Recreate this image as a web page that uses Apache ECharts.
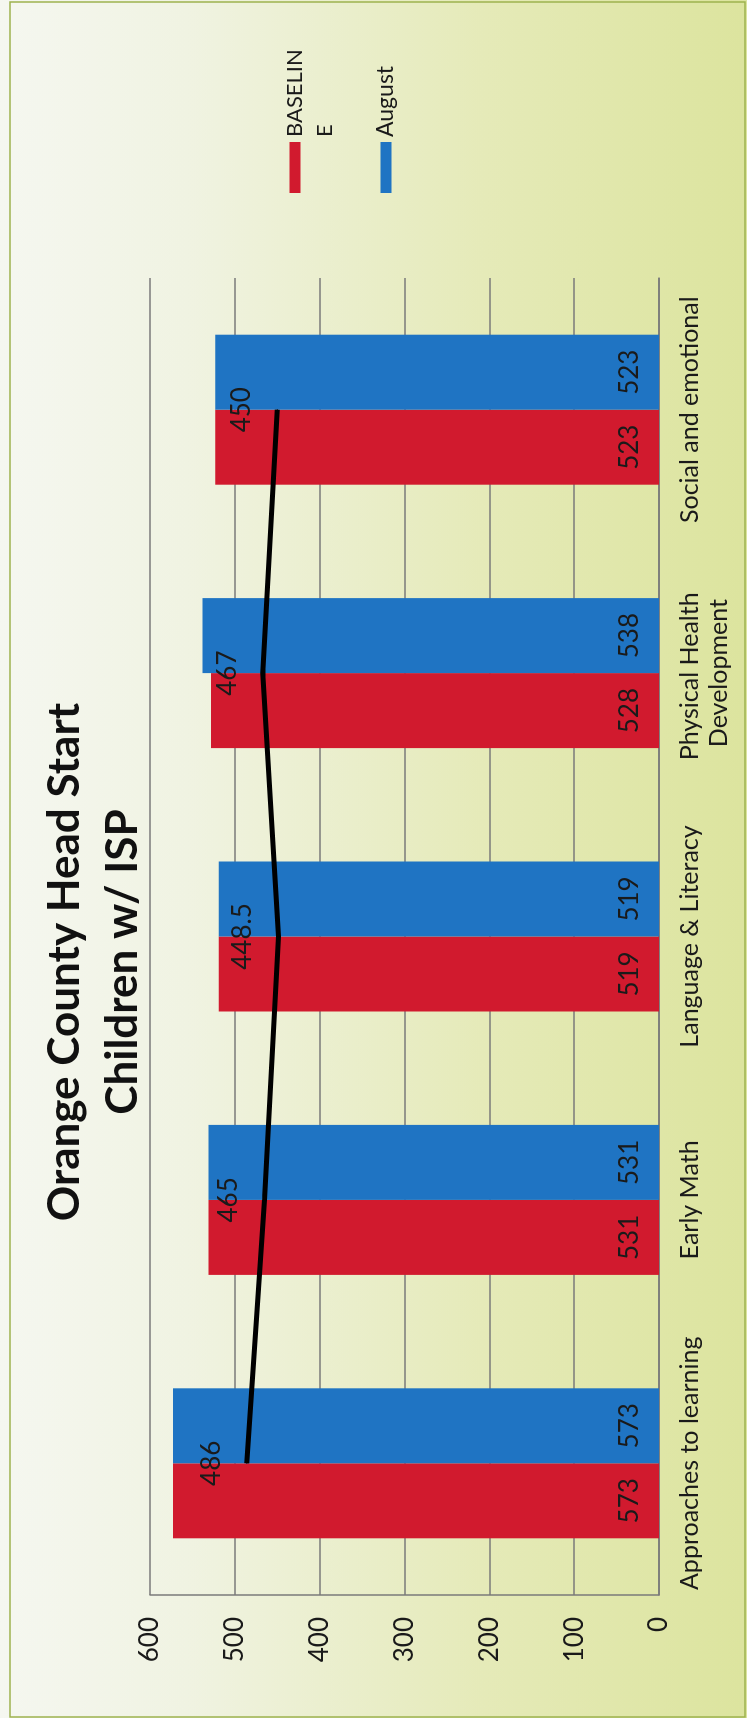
<!DOCTYPE html>
<html>
<head>
<meta charset="utf-8">
<script src="https://cdn.jsdelivr.net/npm/echarts@6/dist/echarts.min.js"></script>
<style>
html,body{margin:0;padding:0;width:747px;height:1718px;overflow:hidden;background:#eef2dc;}
#wrap{position:absolute;left:0;top:0;width:1718px;height:747px;transform-origin:0 0;transform:translate(0,1718px) rotate(-90deg);}
#chart{width:1718px;height:747px;}
</style>
</head>
<body>
<div id="wrap"><div id="chart"></div></div>
<script>
// ---- data ----
const titleLines = ['Orange County Head Start', 'Children w/ ISP'];
const categories = ['Approaches to learning', 'Early Math', 'Language & Literacy', 'Physical Health Development', 'Social and emotional'];
const baselineValues = [573, 531, 519, 528, 523];
const augustValues = [573, 531, 519, 538, 523];
const lineValues = [486, 465, 448.5, 467, 450];
const seriesNames = ['BASELINE', 'August', 'Target'];
const valueTicks = [0, 100, 200, 300, 400, 500, 600];

const FONT = 'Lato';
const chart = echarts.init(document.getElementById('chart'), null, {renderer: 'canvas'});

const option = {
  backgroundColor: {
    type: 'linear', x: 0, y: 0, x2: 0, y2: 1,
    colorStops: [
      {offset: 0, color: '#f5f7f0'},
      {offset: 0.25, color: '#f0f3e2'},
      {offset: 0.65, color: '#e5eab8'},
      {offset: 1, color: '#dce49e'}
    ]
  },
  textStyle: {fontFamily: FONT},
  title: {
    text: titleLines.join('\n'),
    left: 756,
    top: 36,
    textAlign: 'center',
    padding: 0,
    textStyle: {fontFamily: FONT, fontWeight: 'bold', fontSize: 44, lineHeight: 58, color: '#111'}
  },
  legend: [
    {
      data: [seriesNames[0]],
      orient: 'vertical',
      left: 1525, top: 250, padding: 0,
      itemWidth: 51, itemHeight: 11,
      icon: 'rect',
      formatter: function (n) { return '\n' + n.slice(0, 7) + '\n' + n.slice(7); },
      textStyle: {fontFamily: FONT, fontSize: 22, color: '#1a1a1a', lineHeight: 30}
    },
    {
      data: [seriesNames[1]],
      orient: 'vertical',
      left: 1525, top: 371, padding: 0,
      itemWidth: 51, itemHeight: 11,
      icon: 'rect',
      textStyle: {fontFamily: FONT, fontSize: 23, color: '#1a1a1a', lineHeight: 30}
    }
  ],
  grid: {left: 123, right: 278, top: 150, bottom: 88, containLabel: false},
  xAxis: {
    type: 'category',
    data: categories,
    axisLine: {show: true, lineStyle: {color: '#7a7a7a', width: 1.5}},
    axisTick: {show: false},
    axisLabel: {
      fontFamily: FONT, fontSize: 25, color: '#1a1a1a', margin: 16,
      lineHeight: 29, width: 300, overflow: 'break', interval: 0
    }
  },
  yAxis: {
    type: 'value',
    min: valueTicks[0], max: valueTicks[valueTicks.length - 1], interval: 100,
    axisLine: {show: true, lineStyle: {color: '#7a7a7a', width: 1.5}},
    axisTick: {show: false},
    splitLine: {show: true, lineStyle: {color: '#7a7a7a', width: 1.5}},
    axisLabel: {fontFamily: FONT, fontSize: 26, color: '#1a1a1a', margin: 22}
  },
  series: [
    {
      name: seriesNames[0], type: 'bar', data: baselineValues,
      barWidth: 75, barGap: '0%',
      itemStyle: {color: '#d11a2e'},
      label: {show: true, position: 'insideBottom', distance: 16, fontFamily: FONT, fontSize: 26, color: '#1a1a1a'}
    },
    {
      name: seriesNames[1], type: 'bar', data: augustValues,
      barWidth: 75, barGap: '0%',
      itemStyle: {color: '#1f74c3'},
      label: {show: true, position: 'insideBottom', distance: 16, fontFamily: FONT, fontSize: 26, color: '#1a1a1a'}
    },
    {
      name: seriesNames[2], type: 'line', data: lineValues,
      symbol: 'circle', symbolSize: 1, showSymbol: true, z: 5,
      lineStyle: {color: '#000', width: 5},
      itemStyle: {color: '#000'},
      label: {show: true, position: 'top', distance: 22, fontFamily: FONT, fontSize: 26, color: '#1a1a1a'}
    }
  ],
  graphic: [
    {type: 'rect', shape: {x: 1, y: 10, width: 1715, height: 735}, style: {fill: 'none', stroke: '#9db24f', lineWidth: 1.5}, silent: true, z: -1}
  ]
};
chart.setOption(option);
</script>
</body>
</html>
